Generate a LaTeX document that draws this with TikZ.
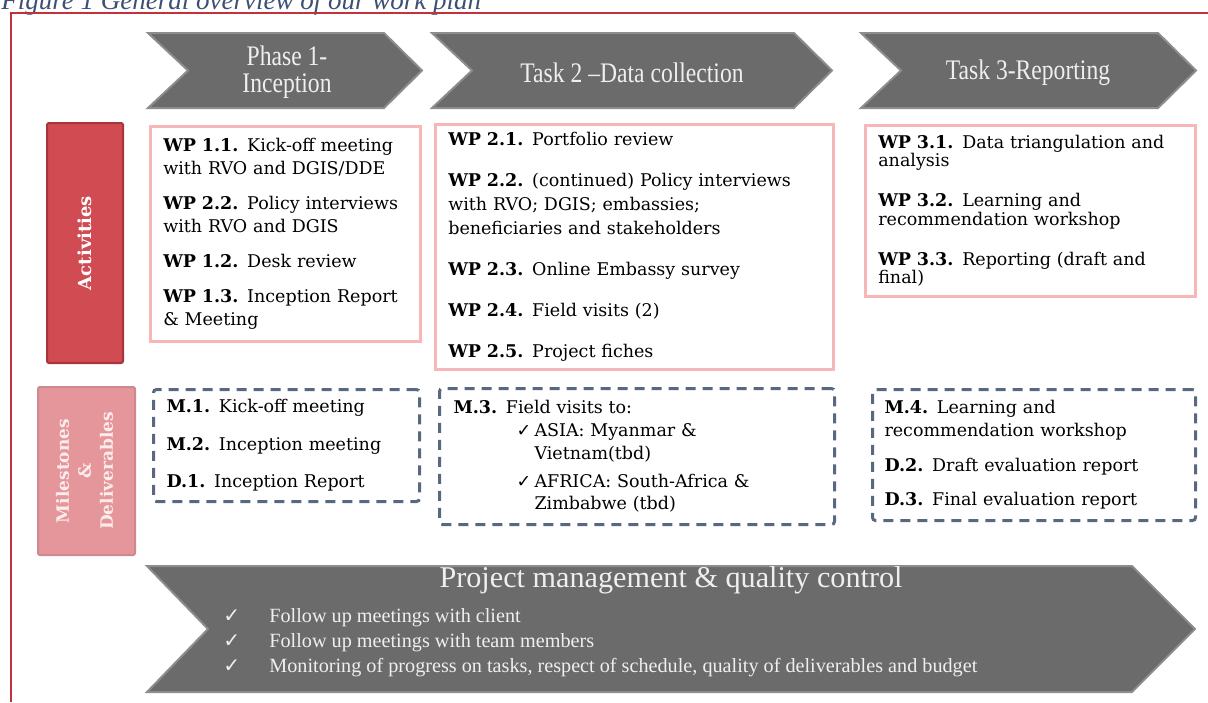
\documentclass[tikz,border=0pt]{standalone}
\usepackage{fontspec}
\setmainfont{DejaVu Serif}
\newfontfamily\chevfont{Liberation Serif}
\newfontfamily\symfont{DejaVu Sans}

\definecolor{framered}{HTML}{C1323C}
\definecolor{capblue}{HTML}{3D4F74}
\definecolor{chevgray}{HTML}{6B6B6B}
\definecolor{chevedge}{HTML}{8D8D8D}
\definecolor{chevtxt}{HTML}{EFEFEF}
\definecolor{actfill}{HTML}{D04B52}
\definecolor{actedge}{HTML}{A8353C}
\definecolor{msfill}{HTML}{E4969B}
\definecolor{msedge}{HTML}{CF888D}
\definecolor{mstxt}{HTML}{FBECEC}
\definecolor{pinkedge}{HTML}{F8B6B6}
\definecolor{dashcol}{HTML}{58687F}

\newcommand{\bodyfont}[1]{\fontsize{8.75}{#1}\selectfont}
\newcommand{\tick}{{\symfont ✓}}

\tikzset{
  frame/.style={draw=framered, line width=1pt},
  chevron/.style={fill=chevgray, draw=chevedge, line width=1pt},
  chevtext/.style={text=chevtxt, font=\chevfont\fontsize{11.8}{11.3}\selectfont, align=center, inner sep=0pt},
  sidebox/.style={fill=#1fill, draw=#1edge, line width=1pt, rounded corners=1pt, inner sep=0pt},
  actbox/.style={draw=pinkedge, line width=1.3pt, anchor=north west, align=left,
    inner xsep=6.5pt, inner ysep=1pt},
  msbox/.style={draw=dashcol, line width=1.5pt, dash pattern=on 5pt off 3.5pt,
    rounded corners=1.5pt, anchor=north west, align=left, inner xsep=6.5pt, inner ysep=1pt}
}

\begin{document}
\begin{tikzpicture}[x=0.5pt, y=-0.5pt]
\useasboundingbox (0,0) rectangle (1208,702);

% caption and frame
\node[anchor=base west, inner sep=0pt, text=capblue, font=\chevfont\itshape\fontsize{13.5}{15}\selectfont] (cap) at (1,9) {Figure 1 General overview of our work plan};
\draw[frame] (1208,13) -- (11,13) -- (11,702);

% phase chevrons
\foreach \l/\r in {148/422, 432/832, 861/1196}
  \draw[chevron] (\l,33) -- (\r-38,33) -- (\r,70.5) -- (\r-38,108) -- (\l,108) -- (\l+40,70.5) -- cycle;
\node[chevtext] (phase1) at (287,73) {\scalebox{1}[1.2]{\begin{tabular}{@{}c@{}}Phase 1-\\Inception\end{tabular}}};
\node[chevtext] (task2) at (632,73) {\scalebox{1}[1.2]{Task 2 –Data collection}};
\node[chevtext] (task3) at (1028,73) {\scalebox{1}[1.2]{Task 3-Reporting}};

% row labels
\node[sidebox=act, minimum width=38pt, minimum height=120pt, text=white, font=\bfseries\fontsize{9}{11}\selectfont] (act) at (85,243) {\rotatebox{90}{Activities}};
\node[sidebox=ms, minimum width=48.5pt, minimum height=84pt, text=mstxt, font=\bfseries\fontsize{8.5}{11}\selectfont] (ms) at (86.5,471)
  {\rotatebox{90}{\begin{tabular}{@{}c@{}}Milestones\\\&\\Deliverables\end{tabular}}};

% activities
\node[actbox, text width=122pt, minimum height=107.5pt, font=\bodyfont{11.5}] (wp1) at (149,125) {%
  \textbf{WP 1.1.} Kick-off meeting\\ with RVO and DGIS/DDE\\[6pt]
  \textbf{WP 2.2.} Policy interviews\\ with RVO and DGIS\\[6pt]
  \textbf{WP 1.2.} Desk review\\[6pt]
  \textbf{WP 1.3.} Inception Report\\ \& Meeting};
\node[actbox, text width=186pt, minimum height=122.5pt, font=\bodyfont{12}] (wp2) at (434,123) {%
  \textbf{WP 2.1.} Portfolio review\\[8.5pt]
  \textbf{WP 2.2.} (continued) Policy interviews\\ with RVO; DGIS; embassies;\\ beneficiaries and stakeholders\\[8.5pt]
  \textbf{WP 2.3.} Online Embassy survey\\[8.5pt]
  \textbf{WP 2.4.} Field visits (2)\\[8.5pt]
  \textbf{WP 2.5.} Project fiches};
\node[actbox, text width=152pt, minimum height=85.5pt, font=\bodyfont{9.3}] (wp3) at (864,124) {%
  \textbf{WP 3.1.} Data triangulation and\\ analysis\\[10.7pt]
  \textbf{WP 3.2.} Learning and\\ recommendation workshop\\[10.7pt]
  \textbf{WP 3.3.} Reporting (draft and\\ final)};

% milestones and deliverables
\node[msbox, text width=120pt, minimum height=56pt, font=\bodyfont{11.5}] (ms1) at (152,388) {%
  \textbf{M.1.} Kick-off meeting\\[7.25pt]
  \textbf{M.2.} Inception meeting\\[7.25pt]
  \textbf{D.1.} Inception Report};
\node[msbox, text width=183.5pt, minimum height=68pt, inner xsep=7pt, font=\bodyfont{11.3}] (ms2) at (438,387) {%
  \textbf{M.3.} Field visits to:\\
  \hspace*{31.5pt}\makebox[9pt][l]{\tick}ASIA: Myanmar \&\\
  \hspace*{40.5pt}Vietnam(tbd)\\[2.7pt]
  \hspace*{31.5pt}\makebox[9pt][l]{\tick}AFRICA: South-Africa \&\\
  \hspace*{40.5pt}Zimbabwe (tbd)};
\node[msbox, text width=149.5pt, minimum height=65.5pt, inner xsep=6pt, font=\bodyfont{11.5}] (ms3) at (871,388) {%
  \textbf{M.4.} Learning and\\ recommendation workshop\\[5.75pt]
  \textbf{D.2.} Draft evaluation report\\[5.75pt]
  \textbf{D.3.} Final evaluation report};

% project management band
\draw[chevron] (147,566) -- (1132,566) -- (1195,629) -- (1132,692) -- (147,692) -- (208,629) -- cycle;
\node[chevtext, font=\chevfont\fontsize{15.1}{17}\selectfont] (pm) at (671,580) {Project management \& quality control};
\node[chevtext, anchor=west, align=left, font=\chevfont\fontsize{10.1}{12.5}\selectfont] (pmlist) at (223,643) {%
  \makebox[23pt][l]{\tick}Follow up meetings with client\\
  \makebox[23pt][l]{\tick}Follow up meetings with team members\\
  \makebox[23pt][l]{\tick}Monitoring of progress on tasks, respect of schedule, quality of deliverables and budget};
\end{tikzpicture}
\end{document}
